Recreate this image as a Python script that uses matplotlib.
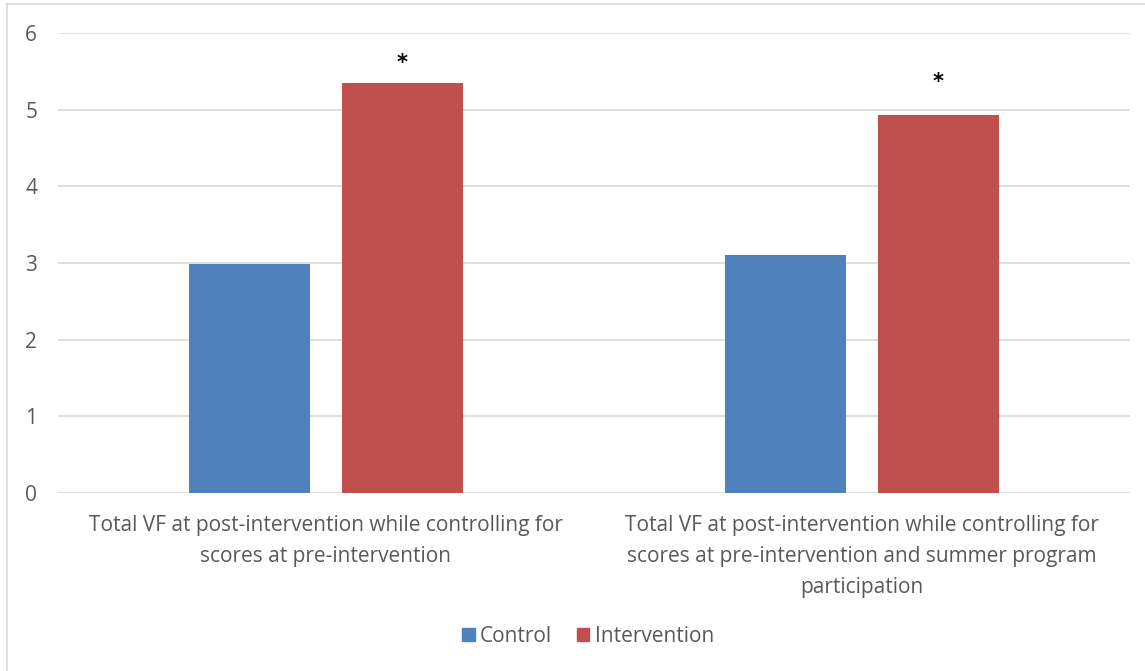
import numpy as np
import matplotlib
matplotlib.use("Agg")
import matplotlib.pyplot as plt
from matplotlib.lines import Line2D
from matplotlib.patches import Patch

# Mean total VF scores by group
categories = [
    "Total VF at post-intervention while controlling for\nscores at pre-intervention",
    "Total VF at post-intervention while controlling for\nscores at pre-intervention and summer program\nparticipation",
]
control = [2.99, 3.10]
intervention = [5.35, 4.93]
star_y = [5.61, 5.36]  # significance markers above intervention bars

plt.rcParams['font.family'] = ['Open Sans', 'DejaVu Sans']
text_color = "#595959"
grid_color = "#d9d9d9"
fs = 15

fig = plt.figure(figsize=(11.45, 6.71), dpi=100)
ax = fig.add_axes([58 / 1145, 1 - 493 / 671, (1130 - 58) / 1145, (493 - 33) / 671])

x = np.arange(len(categories))
width = 0.224
offset = 0.1427
ax.bar(x - offset, control, width, color="#4f81bd", label="Control", zorder=3)
ax.bar(x + offset, intervention, width, color="#c0504d", label="Intervention", zorder=3)

for xi, ys in zip(x, star_y):
    ax.text(xi + offset, ys, "*", ha="center", va="center", fontsize=15,
            fontweight="bold", color="black", family="DejaVu Sans")

ax.set_xlim(-0.5, 1.5)
ax.set_ylim(0, 6)
ax.set_yticks(range(7))
ax.yaxis.grid(True, color=grid_color, linewidth=1.2, zorder=0)
ax.set_axisbelow(True)
for s in ax.spines.values():
    s.set_visible(False)
ax.tick_params(axis="y", length=0, pad=15, labelsize=fs, labelcolor=text_color)
ax.tick_params(axis="x", length=0, pad=16, labelsize=fs, labelcolor=text_color)
ax.set_xticks(x)
ax.set_xticklabels(categories, linespacing=1.62)

handles = [Patch(color="#4f81bd", label="Control"),
           Patch(color="#c0504d", label="Intervention")]
fig.legend(handles=handles, loc="center", bbox_to_anchor=(588 / 1145, 1 - 636 / 671),
           ncol=2, frameon=False, fontsize=fs, labelcolor=text_color,
           handlelength=0.6, handleheight=0.6, handletextpad=0.25, columnspacing=1.2)

# chart border (left and top edges)
fig.add_artist(Line2D([7 / 1145, 7 / 1145], [0, 1 - 4 / 671], color=grid_color,
                      linewidth=1.2, transform=fig.transFigure))
fig.add_artist(Line2D([7 / 1145, 1], [1 - 4 / 671, 1 - 4 / 671], color=grid_color,
                      linewidth=1.2, transform=fig.transFigure))

fig.savefig("out.png", dpi=100)
